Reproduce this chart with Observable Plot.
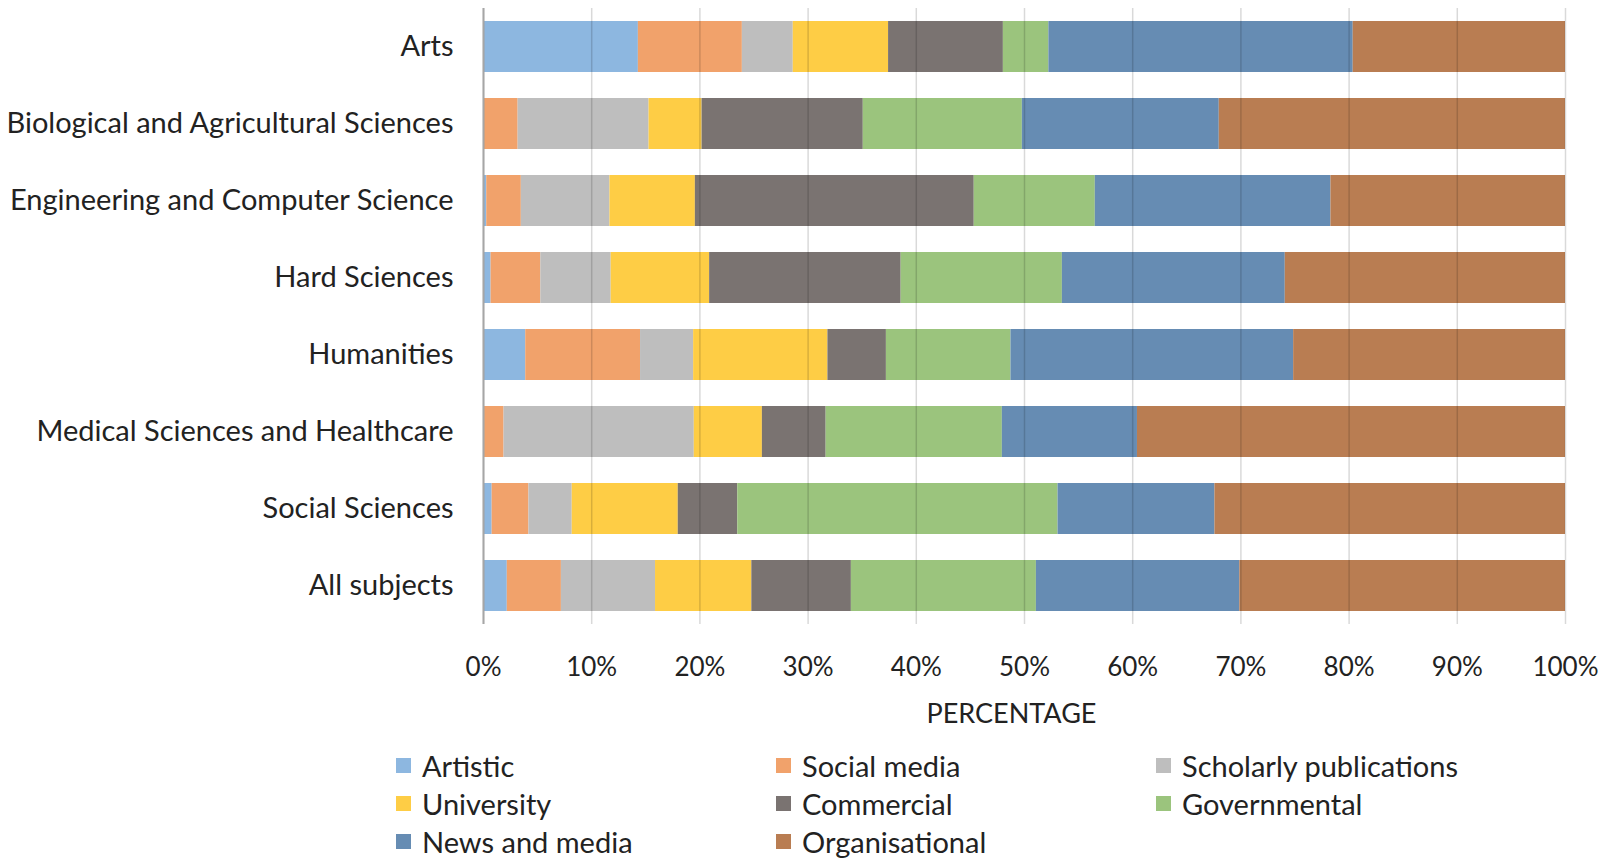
<!DOCTYPE html>
<html>
<head>
<meta charset="utf-8">
<script src="https://cdn.jsdelivr.net/npm/d3@7"></script>
<script src="https://cdn.jsdelivr.net/npm/@observablehq/plot@0.6"></script>
<style>
  html, body { margin: 0; padding: 0; background: #fff; }
  #chart { width: 1603px; }
  .legend { display: grid; grid-template-columns: 380px 380px 380px; margin-left: 396px; margin-top: 12px;
            font-family: Lato, "Open Sans", sans-serif; font-size: 29px; color: #222; row-gap: 0px; }
  .legend .item { display: flex; align-items: center; height: 37.7px; }
  .legend .sw { width: 15px; height: 15px; margin-right: 11px; flex: none; }
</style>
</head>
<body>
<div id="chart"></div>
<script>
const categories = ["Arts", "Biological and Agricultural Sciences", "Engineering and Computer Science", "Hard Sciences", "Humanities", "Medical Sciences and Healthcare", "Social Sciences", "All subjects"];
const seriesNames = ["Artistic", "Social media", "Scholarly publications", "University", "Commercial", "Governmental", "News and media", "Organisational"];
const colors = ["#8db7e0", "#f1a26b", "#bebebe", "#fecd45", "#7a7371", "#9bc47d", "#668cb3", "#b97d52"];

const artistic       = [14.3, 0.0, 0.3, 0.7, 3.9, 0.1, 0.8, 2.2];
const socialMedia    = [9.6, 3.2, 3.2, 4.6, 10.6, 1.8, 3.4, 5.0];
const scholarly      = [4.7, 12.1, 8.2, 6.5, 4.9, 17.6, 4.0, 8.7];
const university     = [8.8, 4.9, 7.9, 9.1, 12.4, 6.3, 9.8, 8.9];
const commercial     = [10.6, 14.9, 25.8, 17.7, 5.4, 5.9, 5.5, 9.2];
const governmental   = [4.2, 14.7, 11.2, 14.9, 11.5, 16.3, 29.6, 17.1];
const newsMedia      = [28.1, 18.2, 21.8, 20.6, 26.1, 12.5, 14.5, 18.8];
const organisational = [19.6, 32.0, 21.7, 25.9, 25.1, 39.6, 32.4, 30.1];

const xTicks = [0, 0.1, 0.2, 0.3, 0.4, 0.5, 0.6, 0.7, 0.8, 0.9, 1];

const seriesValues = [artistic, socialMedia, scholarly, university, commercial, governmental, newsMedia, organisational];
const rows = [];
categories.forEach((c, i) => {
  seriesNames.forEach((s, j) => rows.push({category: c, series: s, value: seriesValues[j][i]}));
});

const font = "Lato, 'Open Sans', sans-serif";

const chart = Plot.plot({
  width: 1603,
  height: 735,
  marginLeft: 483,
  marginRight: 38,
  marginTop: 8,
  marginBottom: 111,
  style: {fontFamily: font, fontSize: "26px", color: "#222", background: "#fff"},
  x: {domain: [0, 1], ticks: xTicks, tickFormat: d3.format(".0%")},
  y: {domain: categories, paddingInner: 0.34, paddingOuter: 0.17},
  color: {domain: seriesNames, range: colors},
  marks: [
    Plot.barX(rows, Plot.stackX({x: "value", y: "category", fill: "series", offset: "normalize", order: seriesNames})),
    Plot.gridX(xTicks, {stroke: "#000", strokeOpacity: 0.15, strokeWidth: 1.5}),
    Plot.ruleX([0], {stroke: "#a6a6a6", strokeWidth: 2}),
    Plot.axisX(xTicks, {tickSize: 0, tickPadding: 33, tickFormat: d3.format(".0%"), label: null, fontSize: 26}),
    Plot.axisY({tickSize: 0, tickPadding: 30, label: null, fontSize: 29}),
    Plot.text(["PERCENTAGE"], {frameAnchor: "bottom", dy: 98, dx: -13, fontSize: 27, fill: "#222"})
  ]
});
document.getElementById("chart").appendChild(chart);

const legend = document.createElement("div");
legend.className = "legend";
seriesNames.forEach((s, i) => {
  const item = document.createElement("div");
  item.className = "item";
  const sw = document.createElement("span");
  sw.className = "sw";
  sw.style.background = colors[i];
  const label = document.createElement("span");
  label.textContent = s;
  item.appendChild(sw);
  item.appendChild(label);
  legend.appendChild(item);
});
document.getElementById("chart").appendChild(legend);
</script>
</body>
</html>
